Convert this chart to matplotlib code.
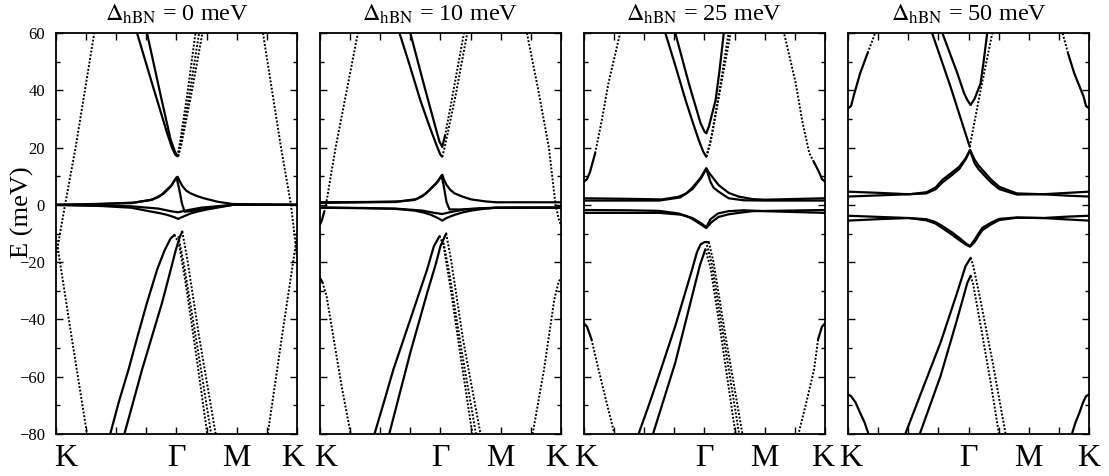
import matplotlib.pyplot as plt
from matplotlib.ticker import MultipleLocator
from matplotlib.transforms import ScaledTranslation

plt.rcParams['font.family'] = ['Liberation Serif', 'DejaVu Serif']
plt.rcParams['mathtext.fontset'] = 'stix'

# k path: K=0, Gamma=4, M=6, K=8
path_ticks = [0, 4, 6, 8]
path_labels = ['K', 'Γ', 'M', 'K']
gaps_mev = [0, 10, 25, 50]

# ---- Delta_hBN = 0 meV : (k, E in meV)
d00_cone_a = ([0.0, 0.3, 0.65, 1.27], [-18, 0, 20, 60])
d00_cone_b = ([0.0, 0.5, 1.03], [-11, -45, -80])
d00_cone_c = ([6.87, 7.47, 7.8, 8.0], [60, 20, 0, -18])
d00_cone_d = ([7.03, 7.5, 8.0], [-80, -46, -11])
d00_cb_outer = ([2.69, 3.2, 3.69, 3.85, 3.96, 4.03], [60, 42, 25, 20, 17.5, 17])
d00_cb_inner = ([3.02, 3.5, 3.8, 3.95, 4.04], [60, 37, 23, 18.5, 17])
d00_cb_r1 = ([4.03, 4.12, 4.35, 4.63], [17, 22, 38, 60])
d00_cb_r2 = ([4.06, 4.16, 4.48, 4.86], [17, 21, 38, 60])
d00_cb_r3 = ([4.05, 4.14, 4.42, 4.75], [17, 21.5, 38, 60])
d00_flat_a = ([0, 1.5, 2.58, 3.13, 3.4, 3.58, 3.8, 3.95, 4.04, 4.12, 4.2, 4.32, 4.47, 4.7, 4.91, 5.36, 5.86, 8.0],
              [0, 0.3, 0.8, 1.7, 2.7, 4.0, 6.3, 8.8, 9.8, 8.0, 6.5, 5.0, 4.0, 3.0, 2.3, 1.1, 0.3, 0])
d00_flat_b = ([0, 2.5, 3.2, 3.5, 3.85, 4.0, 4.1, 4.18, 4.27, 4.6, 5.2, 5.86, 8.0],
              [0, 0.6, 1.8, 3.5, 7.0, 9.6, 5.0, 0.5, -2.4, -2.0, -1.0, 0, 0])
d00_flat_c = ([0, 1.5, 2.5, 3.13, 3.45, 3.69, 3.95, 4.05, 4.2, 4.47, 4.75, 5.02, 5.5, 5.86, 8.0],
              [0, -0.4, -1.0, -2.3, -2.9, -3.5, -4.4, -4.9, -4.2, -3.0, -2.2, -1.6, -0.7, 0, 0])
d00_flat_d = ([0, 2.5, 3.4, 3.8, 4.05, 4.3, 4.8, 5.86, 8.0],
              [0, -0.5, -1.3, -2.2, -2.6, -2.0, -1.0, 0, 0])
d00_vb_outer = ([1.8, 2.08, 2.41, 2.71, 3.02, 3.36, 3.6, 3.8, 3.93],
                [-80, -69, -57.4, -45.8, -34.2, -22.5, -16, -11.8, -10.5])
d00_vb_inner = ([2.27, 2.86, 3.52, 3.75, 3.97, 4.1, 4.19],
                [-80, -57.4, -34.2, -25, -16, -11.5, -9.3])
d00_vb_r1 = ([3.93, 4.08, 4.3, 4.65, 5.02], [-10.5, -13.4, -27, -52, -80])
d00_vb_r2 = ([4.19, 4.36, 4.75, 5.3], [-9.3, -19, -46, -80])
d00_vb_r3 = ([4.06, 4.25, 4.7, 5.15], [-11, -21, -50, -80])

# ---- Delta_hBN = 10 meV
d10_cone_a = ([0.0, 0.06, 0.14, 0.2, 0.52, 0.89, 1.26], [-7, -5.5, -2.5, 0, 20, 40, 60])
d10_cone_b = ([0.0, 0.08, 0.22, 0.44, 0.72, 1.02], [-25.5, -27, -31.8, -45.8, -63.3, -80])
d10_cone_c = ([6.87, 7.25, 7.6, 7.82, 7.94, 8.0], [60, 40, 20, 0, -5.5, -7])
d10_cone_d = ([7.06, 7.44, 7.78, 7.92, 8.0], [-80, -57.4, -33, -27, -25.5])
d10_cb_outer = ([2.64, 3.0, 3.33, 3.65, 3.89, 4.0, 4.06], [60, 48, 36.6, 27, 20.3, 17.5, 16.8])
d10_cb_inner = ([3.0, 3.44, 3.83, 3.97, 4.06], [60, 42.4, 27.3, 22, 20.3])
d10_cb_r1 = ([4.06, 4.15, 4.4, 4.78], [20.3, 24, 38, 60])
d10_cb_r2 = ([4.06, 4.15, 4.5, 4.89], [16.8, 20.5, 38, 60])
d10_flat_a = ([0, 1.5, 2.6, 3.13, 3.4, 3.58, 3.86, 4.06, 4.13, 4.2, 4.32, 4.47, 4.75, 5.02, 5.5, 5.86, 8.0],
              [0.9, 1.0, 1.2, 1.7, 3.0, 4.6, 7.5, 10.5, 8.5, 7.0, 5.3, 4.0, 2.8, 1.9, 1.2, 0.9, 0.9])
d10_flat_b = ([0, 2.5, 3.2, 3.5, 3.9, 4.04, 4.12, 4.2, 4.3, 4.7, 5.3, 5.86, 8.0],
              [0.7, 1.0, 2.0, 3.8, 8.0, 10.2, 6.0, 1.0, -1.6, -1.6, -1.2, -1.0, -1.0])
d10_flat_c = ([0, 1.5, 2.5, 3.13, 3.45, 3.69, 3.95, 4.06, 4.2, 4.47, 4.75, 5.02, 5.5, 5.86, 8.0],
              [-0.9, -1.1, -1.4, -2.0, -2.7, -3.5, -4.8, -5.5, -4.6, -3.5, -2.6, -2.0, -1.3, -1.0, -0.9])
d10_flat_d = ([0, 2.5, 3.4, 3.8, 4.06, 4.3, 4.8, 5.86, 8.0],
              [-1.0, -1.3, -2.0, -2.8, -3.2, -2.6, -1.6, -1.0, -1.0])
d10_vb_outer = ([1.81, 2.12, 2.44, 3.0, 3.56, 3.78, 3.97], [-80, -69, -57.4, -40, -22.5, -14.5, -10.9])
d10_vb_inner = ([2.3, 3.0, 3.56, 3.85, 4.0, 4.19], [-80, -51.6, -30.7, -20.5, -14.4, -10])
d10_vb_r1 = ([3.97, 4.1, 4.35, 4.7, 5.06], [-10.9, -14, -30, -55, -80])
d10_vb_r2 = ([4.19, 4.35, 4.75, 5.33], [-10, -19, -47, -80])
d10_vb_r3 = ([4.08, 4.3, 4.72, 5.18], [-12, -24, -52, -80])

# ---- Delta_hBN = 25 meV
d25_cone_a = ([0.0, 0.1, 0.2, 0.37, 0.6, 0.81, 1.0, 1.2], [8.1, 9.0, 11.5, 18, 30, 42.4, 51, 60])
d25_cone_b = ([0.0, 0.1, 0.25, 0.48, 0.75, 1.01], [-41.4, -42.5, -47, -57.4, -69, -80])
d25_cone_c = ([8.0, 7.9, 7.8, 7.63, 7.48, 7.25, 7.03, 6.84, 6.64], [8.1, 9.0, 11.5, 15, 18, 29, 42.4, 51, 60])
d25_cone_d = ([8.0, 7.9, 7.77, 7.64, 7.38, 7.12], [-41.4, -42.5, -47, -57.4, -69, -80])
d25_cb_outer = ([2.7, 3.05, 3.37, 3.62, 3.81, 3.96, 4.06], [60, 48, 36.6, 28.5, 22.6, 18.5, 16.8])
d25_cb_inner = ([3.03, 3.48, 3.87, 4.0, 4.06], [60, 42.4, 28.5, 25.6, 25])
d25_cb_r1 = ([4.06, 4.15, 4.37, 4.5, 4.64], [25, 27.5, 36.6, 47, 60])
d25_cb_r2 = ([4.06, 4.15, 4.26, 4.55, 4.87], [16.8, 20, 25, 42, 60])
d25_cb_r3 = ([4.06, 4.2, 4.5, 4.8], [16.8, 22, 40, 60])
d25_flat_a = ([0, 1.5, 2.58, 3.13, 3.4, 3.58, 3.86, 4.06, 4.15, 4.24, 4.47, 4.8, 5.13, 5.6, 6.0, 8.0],
              [2.3, 2.1, 1.9, 2.8, 4.0, 5.8, 9.3, 12.8, 11.2, 10.0, 6.9, 4.2, 2.9, 2.0, 1.8, 2.3])
d25_flat_b = ([0, 2.5, 3.2, 3.6, 3.9, 4.06, 4.2, 4.3, 4.47, 4.8, 5.3, 6.0, 8.0],
              [1.5, 1.5, 2.6, 5.5, 9.5, 12.6, 8.0, 6.0, 4.6, 2.3, 1.6, 1.5, 1.5])
d25_flat_c = ([0, 1.5, 2.5, 3.13, 3.4, 3.58, 3.86, 4.06, 4.15, 4.24, 4.47, 4.8, 5.13, 5.6, 8.0],
              [-1.8, -1.9, -2.1, -3.0, -3.9, -4.8, -6.7, -8.1, -7.0, -6.0, -4.2, -3.3, -2.8, -2.2, -1.8])
d25_flat_d = ([0, 2.5, 3.2, 3.6, 3.9, 4.06, 4.2, 4.45, 4.8, 5.3, 6.0, 8.0],
              [-2.8, -2.8, -3.4, -4.6, -6.5, -7.8, -5.0, -3.0, -2.2, -1.9, -2.2, -2.8])
d25_vb_outer = ([1.81, 2.15, 2.48, 3.03, 3.59, 3.75, 3.87, 4.0, 4.14],
                [-80, -70, -59.8, -42.3, -22.5, -16.5, -13.8, -13.0, -13.0])
d25_vb_inner = ([2.29, 3.03, 3.59, 3.85, 4.03], [-80, -55.1, -31.8, -21, -15.5])
d25_vb_r1 = ([4.03, 4.2, 4.5, 5.03], [-15.5, -22, -42, -80])
d25_vb_r2 = ([4.14, 4.3, 4.7, 5.26], [-13, -20, -46, -80])
d25_vb_r3 = ([4.08, 4.25, 4.6, 5.15], [-14, -21, -44, -80])

# ---- Delta_hBN = 50 meV
d50_cone_a = ([0.0, 0.1, 0.18, 0.4, 0.65, 0.9], [33.7, 34.5, 37.8, 45.9, 53, 60])
d50_cone_b = ([0.0, 0.1, 0.25, 0.4, 0.55, 0.68], [-66.2, -66.8, -69, -72.6, -76, -80])
d50_cone_c = ([8.0, 7.9, 7.82, 7.51, 7.3, 7.12], [33.7, 34.5, 37.8, 45.9, 53, 60])
d50_cone_d = ([8.0, 7.9, 7.8, 7.68, 7.55, 7.43], [-66.2, -66.8, -69, -72.6, -76, -80])
d50_dirac_l = ([2.79, 3.4, 3.75, 4.04], [60, 41.3, 29.8, 20.3])
d50_dirac_r = ([4.04, 4.4, 4.79], [20.3, 40, 60])
d50_cb_inner = ([3.13, 3.63, 3.85, 3.96, 4.07], [60, 45.9, 39, 36.6, 34.9])
d50_cb_r1 = ([4.07, 4.2, 4.4, 4.5, 4.62], [34.9, 37, 42.4, 50, 60])
d50_flat_k = [0, 1.0, 2.02, 2.6, 2.9, 3.13, 3.45, 3.69, 3.9, 4.05, 4.2, 4.33, 4.46, 4.75, 5.02, 5.6, 6.47, 7.3, 8.0]
d50_flat_a = (d50_flat_k, [4.6, 4.2, 3.7, 4.4, 6.0, 8.7, 11.3, 13.3, 16.2, 19.2, 15.8, 13.8, 12.2, 8.8, 6.3, 4.0, 3.7, 4.2, 4.6])
d50_flat_b = (d50_flat_k, [2.9, 3.3, 3.7, 4.0, 5.4, 7.8, 10.4, 12.5, 15.8, 19.0, 14.5, 12.5, 11.0, 7.8, 5.5, 3.6, 3.7, 3.2, 2.9])
d50_flat_c = (d50_flat_k, [-3.8, -4.2, -4.6, -5.4, -6.5, -8.1, -10.4, -12.3, -13.8, -14.6, -13.0, -10.8, -8.8, -6.8, -5.3, -4.5, -4.6, -4.1, -3.8])
d50_flat_d = (d50_flat_k, [-5.5, -5.0, -4.6, -5.0, -6.0, -7.4, -9.6, -11.5, -13.4, -14.4, -12.2, -10.0, -8.0, -6.2, -4.9, -4.4, -4.6, -5.1, -5.5])
d50_vb_outer = ([1.9, 2.51, 3.07, 3.62, 3.9, 4.07], [-80, -63.3, -48.1, -30.7, -21.4, -18.5])
d50_vb_inner = ([2.38, 3.07, 3.62, 3.96, 4.07], [-80, -59.8, -40, -27.2, -24.8])
d50_vb_r1 = ([4.07, 4.15, 4.4, 4.8, 5.23], [-18.5, -21, -33.5, -55, -80])
d50_vb_r2 = ([4.07, 4.15, 4.45, 4.75, 5.01], [-24.8, -27.5, -45, -63, -80])

SOLID = dict(ls='-', lw=1.6, color='black', solid_capstyle='round')
DOTTED = dict(ls=(0, (1, 0.9)), lw=1.4, color='black')

# each entry: (band, number of leading points drawn solid; the rest dotted)
ALL = 99
panels = [
    [(d00_cone_a, 0), (d00_cone_b, 0), (d00_cone_c, 0), (d00_cone_d, 0),
     (d00_cb_outer, ALL), (d00_cb_inner, ALL), (d00_cb_r1, 0), (d00_cb_r2, 0), (d00_cb_r3, 0),
     (d00_flat_a, ALL), (d00_flat_b, ALL), (d00_flat_c, ALL), (d00_flat_d, ALL),
     (d00_vb_outer, ALL), (d00_vb_inner, ALL), (d00_vb_r1, 0), (d00_vb_r2, 0), (d00_vb_r3, 0)],
    [(d10_cone_a, 3), (d10_cone_b, 2), (d10_cone_c, 0), (d10_cone_d, 0),
     (d10_cb_outer, ALL), (d10_cb_inner, ALL), (d10_cb_r1, 2), (d10_cb_r2, 0),
     (d10_flat_a, ALL), (d10_flat_b, ALL), (d10_flat_c, ALL), (d10_flat_d, ALL),
     (d10_vb_outer, ALL), (d10_vb_inner, ALL), (d10_vb_r1, 0), (d10_vb_r2, 0), (d10_vb_r3, 0)],
    [(d25_cone_a, 4), (d25_cone_b, 3), (d25_cone_c, 4), (d25_cone_d, 3),
     (d25_cb_outer, ALL), (d25_cb_inner, ALL), (d25_cb_r1, ALL), (d25_cb_r2, 0), (d25_cb_r3, 0),
     (d25_flat_a, ALL), (d25_flat_b, ALL), (d25_flat_c, ALL), (d25_flat_d, ALL),
     (d25_vb_outer, ALL), (d25_vb_inner, ALL), (d25_vb_r1, 0), (d25_vb_r2, 0), (d25_vb_r3, 0)],
    [(d50_cone_a, 5), (d50_cone_b, ALL), (d50_cone_c, 5), (d50_cone_d, ALL),
     (d50_dirac_l, ALL), (d50_dirac_r, 0), (d50_cb_inner, ALL), (d50_cb_r1, ALL),
     (d50_flat_a, ALL), (d50_flat_b, ALL), (d50_flat_c, ALL), (d50_flat_d, ALL),
     (d50_vb_outer, ALL), (d50_vb_inner, ALL), (d50_vb_r1, 0), (d50_vb_r2, 0)],
]

fig = plt.figure(figsize=(11.09, 4.76), dpi=100)
lefts = [0.0505, 0.2885, 0.5266, 0.7647]
width, bottom, height = 0.2173, 0.0882, 0.8425
# horizontal nudges (points) of the first and last K labels so neighbours don't collide
k_nudge = [(7, -3), (4, -3), (1.5, -2), (2, 0)]

xtick_pos = list(range(9))
xtick_lab = [path_labels[path_ticks.index(t)] if t in path_ticks else '' for t in xtick_pos]

for i, (left, bands, gap) in enumerate(zip(lefts, panels, gaps_mev)):
    ax = fig.add_axes([left, bottom, width, height])
    for (k, e), n_solid in bands:
        if n_solid > 0:
            ax.plot(k[:n_solid], e[:n_solid], **SOLID)
        if n_solid < len(k):
            start = max(n_solid - 1, 0)
            ax.plot(k[start:], e[start:], **DOTTED)

    ax.set_xlim(0, 8)
    ax.set_ylim(-80, 60)
    ax.set_xticks(xtick_pos)
    ax.set_xticklabels(xtick_lab, fontsize=23)
    ax.yaxis.set_major_locator(MultipleLocator(20))
    ax.yaxis.set_minor_locator(MultipleLocator(10))
    ax.tick_params(which='both', direction='in', top=True, right=True, width=1.0)
    ax.tick_params(which='major', length=5)
    ax.tick_params(which='minor', length=3)
    ax.tick_params(axis='x', pad=7)
    ax.tick_params(axis='y', pad=8, labelsize=12)
    if i > 0:
        ax.set_yticklabels([])
    labels = ax.get_xticklabels()
    for lbl, dx in zip((labels[0], labels[-1]), k_nudge[i]):
        lbl.set_transform(lbl.get_transform() + ScaledTranslation(dx / 72, 0, fig.dpi_scale_trans))
    for s in ax.spines.values():
        s.set_linewidth(1.3)
    ax.set_title(r'$\Delta_{\mathrm{hBN}}$ = %d meV' % gap, fontsize=17.5, pad=9)

fig.text(0.02, 0.555, 'E (meV)', rotation=90, va='center', ha='center', fontsize=19)

fig.savefig('out.png', dpi=100)
